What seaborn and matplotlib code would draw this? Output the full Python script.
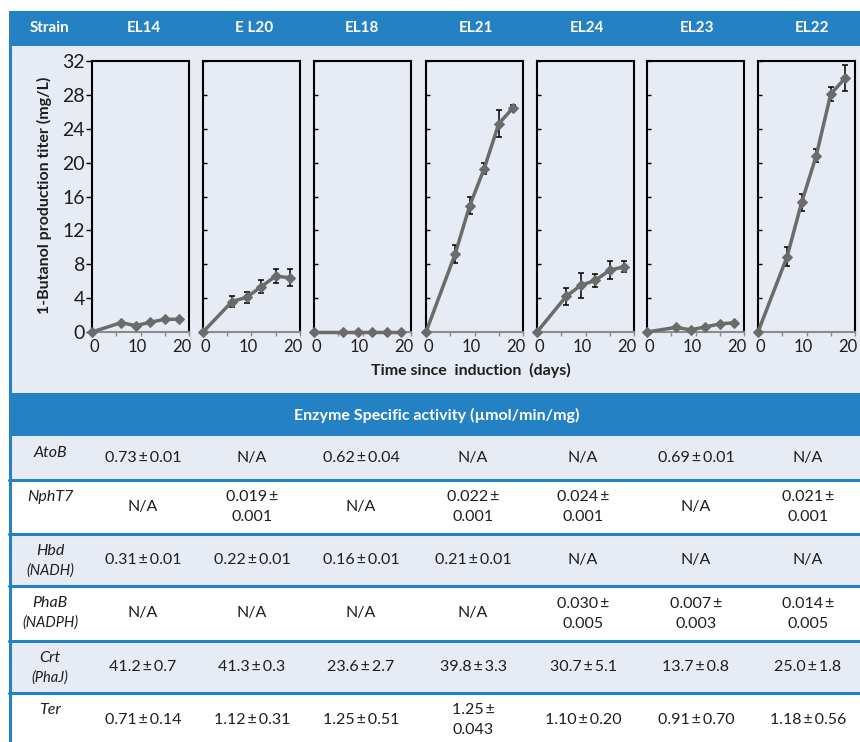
import matplotlib
matplotlib.use("Agg")
import matplotlib.pyplot as plt
from matplotlib.patches import Rectangle
from matplotlib.lines import Line2D
from matplotlib.transforms import ScaledTranslation
import seaborn as sns
import pandas as pd

sns.set_theme(style="white")
plt.rcParams["font.family"] = ["Lato", "DejaVu Sans"]

# ---- data -------------------------------------------------------------
days = [0, 6, 9, 12, 15, 18]
strains = ["EL14", "E L20", "EL18", "EL21", "EL24", "EL23", "EL22"]

titer = {
    "EL14": [0, 1.1, 0.75, 1.15, 1.5, 1.5],
    "E L20": [0, 3.6, 4.1, 5.35, 6.6, 6.4],
    "EL18": [0, 0, 0, 0, 0, 0],
    "EL21": [0, 9.2, 14.9, 19.3, 24.6, 26.5],
    "EL24": [0, 4.2, 5.5, 6.1, 7.3, 7.7],
    "EL23": [0, 0.55, 0.25, 0.6, 0.95, 1.1],
    "EL22": [0, 8.9, 15.3, 20.8, 28.1, 30.0],
}
titer_err = {
    "EL14": [0, 0.1, 0.1, 0.1, 0.1, 0.1],
    "E L20": [0, 0.6, 0.65, 0.75, 0.85, 1.0],
    "EL18": [0, 0, 0, 0, 0, 0],
    "EL21": [0, 1.1, 1.0, 0.7, 1.6, 0.3],
    "EL24": [0, 1.0, 1.5, 0.75, 1.1, 0.65],
    "EL23": [0, 0.1, 0.1, 0.1, 0.1, 0.1],
    "EL22": [0, 1.1, 1.0, 0.75, 0.85, 1.5],
}
y_ticks = [0, 4, 8, 12, 16, 20, 24, 28, 32]
x_ticks = [0, 5, 10, 15, 20]
x_tick_labels = ["0", "", "10", "", "20"]

enzymes = ["AtoB", "NphT7", "Hbd", "PhaB", "Crt", "Ter"]
cofactors = ["", "", "(NADH)", "(NADPH)", "(PhaJ)", ""]
activity = {
    "AtoB": ["0.73\u2009±\u20090.01", "N/A", "0.62\u2009±\u20090.04", "N/A", "N/A",
             "0.69\u2009±\u20090.01", "N/A"],
    "NphT7": ["N/A", "0.019\u2009±\n0.001", "N/A", "0.022\u2009±\n0.001",
              "0.024\u2009±\n0.001", "N/A", "0.021\u2009±\n0.001"],
    "Hbd": ["0.31\u2009±\u20090.01", "0.22\u2009±\u20090.01", "0.16\u2009±\u20090.01",
            "0.21\u2009±\u20090.01", "N/A", "N/A", "N/A"],
    "PhaB": ["N/A", "N/A", "N/A", "N/A", "0.030\u2009±\n0.005",
             "0.007\u2009±\n0.003", "0.014\u2009±\n0.005"],
    "Crt": ["41.2\u2009±\u20090.7", "41.3\u2009±\u20090.3", "23.6\u2009±\u20092.7",
            "39.8\u2009±\u20093.3", "30.7\u2009±\u20095.1", "13.7\u2009±\u20090.8",
            "25.0\u2009±\u20091.8"],
    "Ter": ["0.71\u2009±\u20090.14", "1.12\u2009±\u20090.31", "1.25\u2009±\u20090.51",
            "1.25\u2009±\n0.043", "1.10\u2009±\u20090.20", "0.91\u2009±\u20090.70",
            "1.18\u2009±\u20090.56"],
}

# ---- layout helpers (pixel positions on an 860x742 canvas) ---------------
W, H = 860, 742
BLUE = "#2481C3"
PANEL_BG = "#E7EBF3"
LINE_GREY = "#6B6B6B"
TEXT = "#1E1E1E"

fig = plt.figure(figsize=(W / 100, H / 100), dpi=100)
fig.patch.set_facecolor("white")


def fx(x):
    return x / W


def fy(y):
    return 1 - y / H


def band(x0, y0, x1, y1, color):
    fig.patches.append(Rectangle((fx(x0), fy(y1)), fx(x1) - fx(x0), fy(y0) - fy(y1),
                                 transform=fig.transFigure, facecolor=color,
                                 edgecolor="none", zorder=-2))


def hline(y, x0, x1, lw=2.2, color=BLUE):
    fig.lines.append(Line2D([fx(x0), fx(x1)], [fy(y), fy(y)], transform=fig.transFigure,
                            color=color, lw=lw, zorder=-1))


# header bar and chart band
band(9, 11, W, 46, BLUE)
band(10, 46, W, 393, PANEL_BG)
band(9, 393, W, 436, BLUE)

# table rows
row_bounds = [(436, 480), (480, 534), (534, 586), (586, 641), (641, 693), (693, 742)]
for i, (y0, y1) in enumerate(row_bounds):
    band(10, y0, W, y1, PANEL_BG if i % 2 == 0 else "white")
for y0, _ in row_bounds[1:]:
    hline(y0, 9, W)

# left border
fig.lines.append(Line2D([fx(10), fx(10)], [fy(46), fy(742)], transform=fig.transFigure,
                        color=BLUE, lw=2.2, zorder=-1))

# header labels
fig.text(fx(50), fy(28), "Strain", color="white", fontsize=11, fontweight="bold",
         ha="center", va="center")
panel_left = [92, 203, 314, 426, 537, 647, 758]
panel_w = 97
header_x = [144, 254, 362, 476, 587, 697, 812]
for name, x in zip(strains, header_x):
    fig.text(fx(x), fy(28), name, color="white", fontsize=11, fontweight="bold",
             ha="center", va="center")

# horizontal nudges (in pixels) for the 0 / 10 / 20 day labels
label_nudge = {"0": 2, "10": -3, "20": -7}

# ---- time-course panels -------------------------------------------------
top_px, bot_px = 61, 332
for i, name in enumerate(strains):
    ax = fig.add_axes([fx(panel_left[i]), fy(bot_px), fx(panel_w), (bot_px - top_px) / H])
    ax.set_facecolor("none")
    df = pd.DataFrame({"day": days, "titer": titer[name]})
    ax.errorbar(days, titer[name], yerr=titer_err[name], fmt="none", ecolor="black",
                elinewidth=1.1, capsize=2.5, capthick=1.1, zorder=2)
    sns.lineplot(data=df, x="day", y="titer", ax=ax, color=LINE_GREY, lw=2.5,
                 marker="D", markersize=5.5, markeredgecolor=LINE_GREY,
                 markerfacecolor=LINE_GREY, zorder=3, clip_on=False)
    ax.set_xlim(0, 20)
    ax.set_ylim(0, 32)
    ax.set_xlabel("")
    ax.set_ylabel("")
    ax.set_xticks(x_ticks)
    ax.set_xticklabels(x_tick_labels)
    ax.set_yticks(y_ticks)
    for side in ("left", "top", "right"):
        ax.spines[side].set_color("black")
        ax.spines[side].set_linewidth(1.5)
    ax.spines["bottom"].set_color("#8C8C8C")
    ax.spines["bottom"].set_linewidth(1.5)
    ax.tick_params(axis="x", direction="out", length=3, width=1, color="#8C8C8C",
                   labelsize=12, labelcolor=TEXT, pad=2, bottom=True)
    for lab in ax.get_xticklabels():
        dx = label_nudge.get(lab.get_text(), 0)
        if dx:
            lab.set_transform(lab.get_transform()
                              + ScaledTranslation(dx / 100, 0, fig.dpi_scale_trans))
    if i == 0:
        ax.tick_params(axis="y", direction="out", length=4, width=1, color="black",
                       labelsize=14, labelcolor=TEXT, pad=1, left=True)
    else:
        ax.tick_params(axis="y", direction="in", length=3, width=1, color="black",
                       labelleft=False, left=True)

fig.text(fx(44), fy(195), "1-Butanol production titer (mg/L)", rotation=90,
         fontsize=11.5, fontweight="bold", color=TEXT, ha="center", va="center")
fig.text(fx(471), fy(370), "Time since  induction  (days)", fontsize=11.5,
         fontweight="bold", color=TEXT, ha="center", va="center")

# ---- enzyme activity table ----------------------------------------------
fig.text(fx(437), fy(415), "Enzyme Specific activity (µmol/min/mg)", color="white",
         fontsize=11.5, fontweight="bold", ha="center", va="center")

col_x = [143, 252, 361, 473, 583, 696, 808]
for (y0, y1), enz, cof in zip(row_bounds, enzymes, cofactors):
    fig.text(fx(50), fy(y0 + 17), enz, fontsize=11.5, fontstyle="italic", color=TEXT,
             ha="center", va="center")
    if cof:
        fig.text(fx(50), fy(y0 + 37), cof, fontsize=10.5, fontstyle="italic",
                 color=TEXT, ha="center", va="center")
    yc = (y0 + y1) / 2 + (3 if enz == "Ter" else 0)
    for x, val in zip(col_x, activity[enz]):
        if "\n" in val:
            first, second = val.split("\n")
            fig.text(fx(x), fy(yc - 10), first, fontsize=11.5, color=TEXT,
                     ha="center", va="center")
            fig.text(fx(x), fy(yc + 10), second, fontsize=11.5, color=TEXT,
                     ha="center", va="center")
        else:
            fig.text(fx(x), fy(yc), val, fontsize=11.5, color=TEXT,
                     ha="center", va="center")

fig.savefig("out.png", dpi=100)
